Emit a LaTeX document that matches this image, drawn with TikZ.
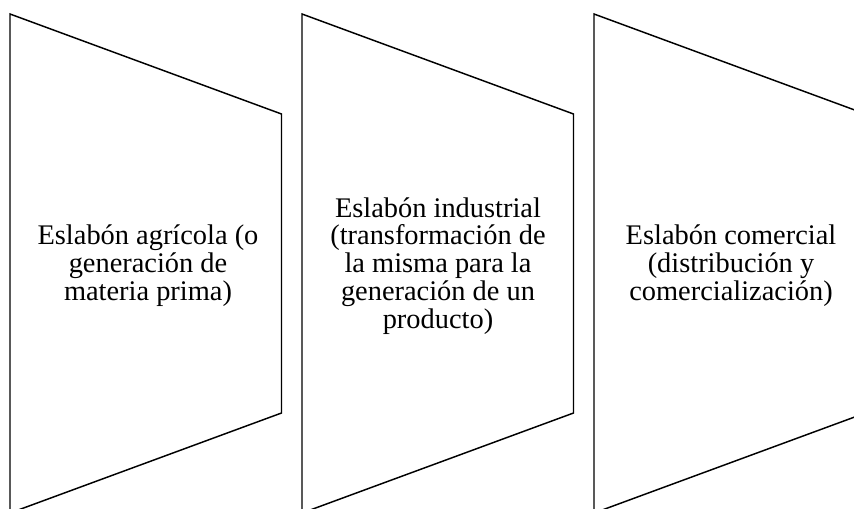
\documentclass[tikz,border=0pt]{standalone}
\usepackage{fontspec}
\setmainfont{Liberation Serif}
\tikzset{
  link/.style={line width=1.1pt, line join=miter},
  linktext/.style={align=center, inner sep=0pt, font=\fontsize{21.3}{20.9}\selectfont}
}
\begin{document}
\begin{tikzpicture}[x=0.75pt, y=-0.75pt]
        % Frame of the picture
        \useasboundingbox (0,0) rectangle (854,508);
        \clip (0,0) rectangle (854,508);
        
        % Draw the three links
        \draw[link] (10,14) -- (281.5,114) -- (281.5,413) -- (10,513) -- cycle;
        \draw[link] (302,14) -- (573.5,114) -- (573.5,413) -- (302,513) -- cycle;
        \draw[link] (594,14) -- (865.5,114) -- (865.5,413) -- (594,513) -- cycle;
        
        % Label the links
        \node[linktext] (agricola) at (148,266) {Eslabón agrícola (o\\generación de\\materia prima)};
        \node[linktext] (industrial) at (438,266) {Eslabón industrial\\(transformación de\\la misma para la\\generación de un\\producto)};
        \node[linktext] (comercial) at (731,266) {Eslabón comercial\\(distribución y\\comercialización)};
        
        \end{tikzpicture}
\end{document}
